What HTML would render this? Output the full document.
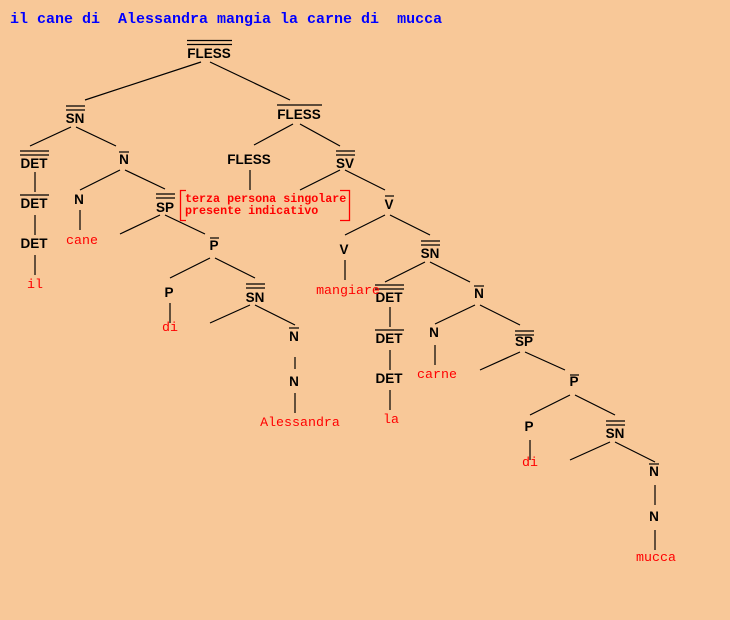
<!DOCTYPE html>
<html><head><meta charset="utf-8"><style>
html,body{margin:0;padding:0;background:#F8C898;}
svg{display:block}
.n{font-family:"Liberation Sans",sans-serif;font-weight:bold;font-size:13.5px;fill:#000;text-anchor:middle}
.l{font-family:"Liberation Mono",monospace;font-size:13.3px;fill:#f00;text-anchor:middle}
.t{font-family:"Liberation Mono",monospace;font-weight:bold;font-size:15px;fill:#00f;white-space:pre}
.a{font-family:"Liberation Mono",monospace;font-weight:bold;font-size:11.7px;fill:#f00}
line{stroke:#000;stroke-width:1.2}
</style></head><body>
<svg width="730" height="620" xmlns="http://www.w3.org/2000/svg">
<rect width="730" height="620" fill="#F8C898"/>
<text class="t" x="10" y="23" xml:space="preserve">il cane di  Alessandra mangia la carne di  mucca</text>

<text class="n" x="209" y="58">FLESS</text>
<line x1="187" y1="40.5" x2="232" y2="40.5"/><line x1="187" y1="44.5" x2="232" y2="44.5"/>
<text class="n" x="75" y="123">SN</text>
<line x1="66" y1="106" x2="85" y2="106"/><line x1="66" y1="110" x2="85" y2="110"/>
<text class="n" x="299" y="119">FLESS</text>
<line x1="277" y1="105" x2="322" y2="105"/>
<text class="n" x="34" y="168">DET</text>
<line x1="20" y1="151" x2="49" y2="151"/><line x1="20" y1="155" x2="49" y2="155"/>
<text class="n" x="124" y="164">N</text>
<line x1="119" y1="152" x2="129" y2="152"/>
<text class="n" x="249" y="164">FLESS</text>
<text class="n" x="345" y="168">SV</text>
<line x1="336" y1="151" x2="355" y2="151"/><line x1="336" y1="155" x2="355" y2="155"/>
<text class="n" x="34" y="208">DET</text>
<line x1="20" y1="195" x2="49" y2="195"/>
<text class="n" x="79" y="204">N</text>
<text class="n" x="165" y="212">SP</text>
<line x1="156" y1="194" x2="175" y2="194"/><line x1="156" y1="198" x2="175" y2="198"/>
<text class="n" x="389" y="209">V</text>
<line x1="385" y1="196" x2="394" y2="196"/>
<text class="n" x="34" y="248">DET</text>
<text class="l" x="82" y="244">cane</text>
<text class="n" x="214" y="250">P</text>
<line x1="210" y1="238" x2="219" y2="238"/>
<text class="n" x="344" y="254">V</text>
<text class="n" x="430" y="258">SN</text>
<line x1="421" y1="241" x2="440" y2="241"/><line x1="421" y1="245" x2="440" y2="245"/>
<text class="l" x="35" y="288">il</text>
<text class="n" x="169" y="297">P</text>
<text class="n" x="255" y="302">SN</text>
<line x1="246" y1="284" x2="265" y2="284"/><line x1="246" y1="288" x2="265" y2="288"/>
<text class="n" x="389" y="302">DET</text>
<line x1="375" y1="285" x2="404" y2="285"/><line x1="375" y1="289" x2="404" y2="289"/>
<text class="l" x="348" y="294">mangiare</text>
<text class="n" x="479" y="298">N</text>
<line x1="474" y1="286" x2="484" y2="286"/>
<text class="l" x="170" y="331">di</text>
<text class="n" x="294" y="341">N</text>
<line x1="289" y1="328" x2="299" y2="328"/>
<text class="n" x="389" y="343">DET</text>
<line x1="375" y1="330" x2="404" y2="330"/>
<text class="n" x="434" y="337">N</text>
<text class="n" x="524" y="346">SP</text>
<line x1="515" y1="331" x2="534" y2="331"/><line x1="515" y1="335" x2="534" y2="335"/>
<text class="n" x="294" y="386">N</text>
<text class="n" x="389" y="383">DET</text>
<text class="l" x="437" y="378">carne</text>
<text class="n" x="574" y="386">P</text>
<line x1="570" y1="375" x2="579" y2="375"/>
<text class="l" x="300" y="426">Alessandra</text>
<text class="l" x="391" y="423">la</text>
<text class="n" x="529" y="431">P</text>
<text class="n" x="615" y="438">SN</text>
<line x1="606" y1="421" x2="625" y2="421"/><line x1="606" y1="425" x2="625" y2="425"/>
<text class="l" x="530" y="466">di</text>
<text class="n" x="654" y="476">N</text>
<line x1="649" y1="464" x2="659" y2="464"/>
<text class="n" x="654" y="521">N</text>
<text class="l" x="656" y="561">mucca</text>

<line x1="201" y1="62" x2="85" y2="100"/>
<line x1="210" y1="62" x2="290" y2="100"/>
<line x1="71" y1="127" x2="30" y2="146"/>
<line x1="76" y1="127" x2="116" y2="146"/>
<line x1="293" y1="124" x2="254" y2="145"/>
<line x1="300" y1="124" x2="340" y2="146"/>
<line x1="35" y1="172" x2="35" y2="192"/>
<line x1="35" y1="215" x2="35" y2="235"/>
<line x1="35" y1="255" x2="35" y2="275"/>
<line x1="120" y1="170" x2="80" y2="190"/>
<line x1="125" y1="170" x2="165" y2="189"/>
<line x1="250" y1="170" x2="250" y2="190"/>
<line x1="340" y1="170" x2="300" y2="190"/>
<line x1="345" y1="170" x2="385" y2="190"/>
<line x1="80" y1="210" x2="80" y2="230"/>
<line x1="160" y1="215" x2="120" y2="234"/>
<line x1="165" y1="215" x2="205" y2="234"/>
<line x1="385" y1="215" x2="345" y2="235"/>
<line x1="390" y1="215" x2="430" y2="235"/>
<line x1="345" y1="260" x2="345" y2="280"/>
<line x1="210" y1="258" x2="170" y2="278"/>
<line x1="215" y1="258" x2="255" y2="278"/>
<line x1="425" y1="262" x2="385" y2="282"/>
<line x1="430" y1="262" x2="470" y2="282"/>
<line x1="170" y1="303" x2="170" y2="323"/>
<line x1="250" y1="305" x2="210" y2="323"/>
<line x1="255" y1="305" x2="295" y2="325"/>
<line x1="390" y1="307" x2="390" y2="327"/>
<line x1="475" y1="305" x2="435" y2="324"/>
<line x1="480" y1="305" x2="520" y2="325"/>
<line x1="295" y1="357" x2="295" y2="369"/>
<line x1="390" y1="350" x2="390" y2="370"/>
<line x1="435" y1="345" x2="435" y2="365"/>
<line x1="520" y1="352" x2="480" y2="370"/>
<line x1="525" y1="352" x2="565" y2="370"/>
<line x1="295" y1="393" x2="295" y2="413"/>
<line x1="390" y1="390" x2="390" y2="410"/>
<line x1="570" y1="395" x2="530" y2="415"/>
<line x1="575" y1="395" x2="615" y2="415"/>
<line x1="530" y1="440" x2="530" y2="460"/>
<line x1="610" y1="442" x2="570" y2="460"/>
<line x1="615" y1="442" x2="655" y2="462"/>
<line x1="655" y1="485" x2="655" y2="505"/>
<line x1="655" y1="530" x2="655" y2="550"/>

<path d="M186 190.5 H180.5 V220.5 H186" fill="none" stroke="#f00" stroke-width="1.3"/>
<path d="M340 190.5 H349.5 V220.5 H340" fill="none" stroke="#f00" stroke-width="1.3"/>
<text class="a" x="185" y="202">terza persona singolare</text>
<text class="a" x="185" y="214">presente indicativo</text>
</svg>
</body></html>
